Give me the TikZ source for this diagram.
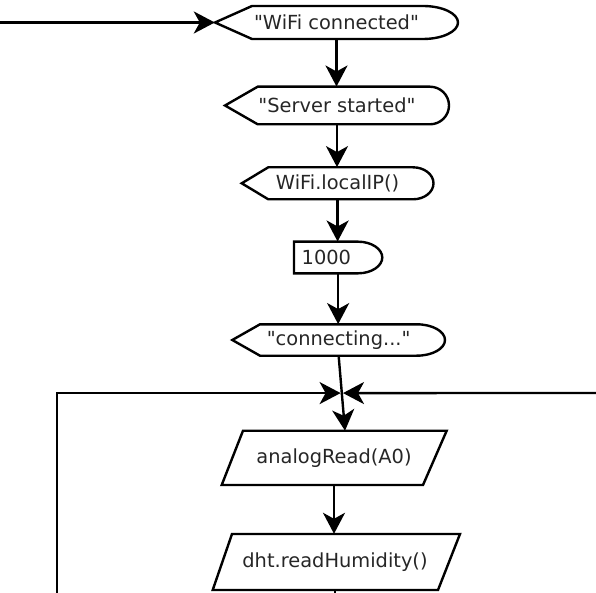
\documentclass[tikz,border=0pt]{standalone}
\usepackage{fontspec}
\setmainfont{DejaVu Sans}[Ligatures=TeXOff]
\usetikzlibrary{arrows.meta,calc}
\tikzset{
  outl/.style={draw=black, line width=2.4pt, line join=miter},
  lab/.style={inner sep=0pt, font=\fontsize{19.4}{23}\selectfont, text=black!85},
  conn/.style={line width=2.4pt, line join=miter, -{Stealth[length=21pt,width=22pt,inset=6pt]}},
  wire/.style={line width=2.4pt},
}
\newcommand{\myDisp}[6]{%
  \draw[outl] (#1,{(#5+#6)/2}) -- (#2,#5) -- (#3,#5)
    .. controls ({#3+0.552*(#4-#3)},#5) and (#4,{(#5+#6)/2-0.276*(#6-#5)}) .. (#4,{(#5+#6)/2})
    .. controls (#4,{(#5+#6)/2+0.276*(#6-#5)}) and ({#3+0.552*(#4-#3)},#6) .. (#3,#6)
    -- (#2,#6) -- cycle;}
\newcommand{\myPara}[6]{%
  \draw[outl] (#1,#5) -- (#2,#5) -- (#4,#6) -- (#3,#6) -- cycle;}
\begin{document}
\begin{tikzpicture}[x=1pt,y=-1pt]
\useasboundingbox (0,0) rectangle (596,593);

% outlines
\myDisp{215}{252}{423}{458}{6}{39}
\myDisp{225}{257.7}{430}{449}{86.7}{124.3}
\myDisp{241.7}{268.3}{413}{433.5}{167.3}{199.3}
\draw[outl] (294,241.7) -- (358.3,241.7)
  .. controls (371.5,241.7) and (382.3,249) .. (382.3,257.5)
  .. controls (382.3,266) and (371.5,273.3) .. (358.3,273.3)
  -- (294,273.3) -- cycle;
\myDisp{232.3}{260}{416.7}{445}{324.3}{355.7}
\myPara{243}{446.7}{221.7}{423}{430.7}{485}
\myPara{232}{460}{212.7}{438}{534}{590}

% nodes
\node[lab, minimum width=243pt, minimum height=33pt] (n1) at (336.5,22.5) {"WiFi connected"};
\node[lab, minimum width=224pt, minimum height=37.6pt] (n2) at (337,105.5) {"Server started"};
\node[lab, minimum width=191.8pt, minimum height=32pt] (n3) at (337.6,183.3) {WiFi.localIP()};
\node[lab, minimum height=31.6pt, inner xsep=7.7pt, text width=72.9pt, align=left] (n4) at (338.15,257.5) {1000};
\node[lab, minimum width=212.7pt, minimum height=31.4pt] (n5) at (338.65,340) {"connecting..."};
\node[lab, minimum width=150pt, minimum height=54.3pt] (p1) at (334,457.85) {analogRead(A0)};
\node[lab, minimum width=150pt, minimum height=56pt] (p2) at (335,562) {dht.readHumidity()};

% free ends
\coordinate (in0) at (0,22.5);
\coordinate (p1in) at (345,430.7);
\coordinate (loop0) at (57,597);
\coordinate (rin) at (598,393);
\coordinate (out0) at (335,597);
\coordinate (J) at ($(n5.south)!0.497!(p1in)$);

% connectors
\draw[conn] (in0) -- (n1.west);
\draw[conn] (n1.south) -- (n1.south |- n2.north);
\draw[conn] (n2.south) -- (n2.south |- n3.north);
\draw[conn] (n3.south) -- (n3.south |- n4.north);
\draw[conn] (n4.south) -- (n4.south |- n5.north);
\draw[conn] (n5.south) -- (p1in);
\draw[conn] (loop0) |- ($(J)+(-1.2,0)$);
\draw[conn] (rin) -- ($(J)+(1.2,0)$);
\draw[conn] (p1.south) -- (p1.south |- p2.north);
\draw[wire] (p2.south) -- (out0);
\end{tikzpicture}
\end{document}
